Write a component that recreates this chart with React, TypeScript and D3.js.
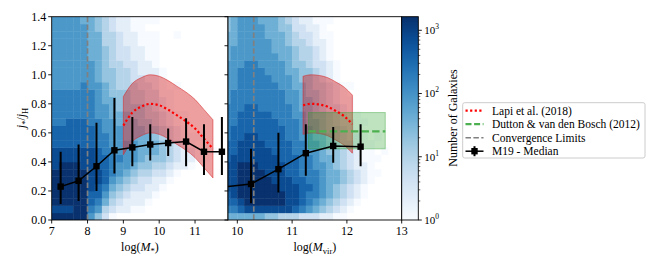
import React from 'react';
import * as d3 from 'd3';

// ---- data ----
const yTicks = [0, 0.2, 0.4, 0.6, 0.8, 1.0, 1.2, 1.4];
const leftXTicks = [7, 8, 9, 10, 11];
const rightXTicks = [10, 11, 12, 13];
const cbMajor = [1, 10, 100, 1000];

// M19 median, stellar mass panel
const leftMedX = [7.25, 7.75, 8.25, 8.75, 9.25, 9.75, 10.25, 10.75, 11.25, 11.75];
const leftMedY = [0.23, 0.27, 0.37, 0.48, 0.5, 0.52, 0.53, 0.54, 0.47, 0.47];
const leftErrLo = [0.11, 0.13, 0.2, 0.32, 0.37, 0.41, 0.44, 0.37, 0.31, 0.31];
const leftErrHi = [0.47, 0.52, 0.67, 0.84, 0.71, 0.66, 0.63, 0.7, 0.66, 0.71];

// M19 median, virial mass panel
const rightMedX = [9.75, 10.25, 10.75, 11.25, 11.75, 12.25];
const rightMedY = [0.228, 0.248, 0.35, 0.46, 0.51, 0.505];
const rightErrLo = [0.1, 0.115, 0.19, 0.305, 0.395, 0.37];
const rightErrHi = [0.45, 0.49, 0.6, 0.66, 0.64, 0.66];

// Lapi et al. (2018)
const lapiLeftX = [9.0, 9.25, 9.5, 9.75, 10.0, 10.25, 10.5, 10.75, 11.0, 11.25, 11.5];
const lapiLeftY = [0.65, 0.74, 0.78, 0.8, 0.79, 0.76, 0.72, 0.68, 0.63, 0.56, 0.49];
const lapiRightX = [11.2, 11.35, 11.5, 11.65, 11.8, 11.95, 12.1];
const lapiRightY = [0.79, 0.8, 0.795, 0.78, 0.75, 0.715, 0.66];
const lapiScatter = 0.2;

// Dutton & van den Bosch (2012)
const duttonX = [11.3, 12.7];
const duttonMed = 0.61;
const duttonLo = 0.49;
const duttonHi = 0.74;

// convergence limits
const convLeft = 8.0;
const convRight = 10.3;

// 2D histogram: one string per x bin, bottom -> top, y bins of 0.05
// level char -> log10(count) = (level - 1) * 0.32, '0' = empty
const levelChars = '0123456789ab';
const levelStep = 0.32;
const binH = 0.05;
const leftBinX0 = 7.0;
const leftBinW = 0.2;
const leftHist = [
  'babbbbbaaa999888887777777777',
  'babbbbbbaa999888887777777777',
  'babbbbbbaa999988887777777777',
  'bbbbbbbbaa999988887777777777',
  'bbbbbbbaaa999988888777777776',
  '7899aaaaaa999888887777666666',
  '57899aa999888877777666666655',
  '3467899998887777666555554444',
  '1345678888777766655554444433',
  '0234567787777665554444333322',
  '0223456777766665554443332222',
  '0122345677766655444333222211',
  '0122334566666555443322221111',
  '0012234556665544333222111101',
  '0001223456655443332221111101',
  '0000123455544332211110000000',
  '0000012344433221110000000000',
  '0000001233322110001000000100',
  '0000000222211010000000000000',
  '0000000122110000000000000000',
  '0000000011010000000000000000',
  '0000000010100000000000000000',
  '0000000001000000000000000000',
];
const rightBinX0 = 9.75;
const rightBinW = 0.125;
const rightHist = [
  '6899aaaa99988888777777666655',
  '689aaaaaa9999888887777776666',
  '69abbbbbaaa99998888887777777',
  '6abbbbbbaaaa9999888888777777',
  '6abbbbbbaaaa9999888888777777',
  '6abbbbbaaaa99998888887777776',
  '5abbbbaaaa999998888877777666',
  '5abbbaaaa9999988888777766666',
  '4abbaaaa99999888887777666655',
  '4aaaaa9999988888777766665554',
  '49aaa99998888877776665554433',
  '3899998888877776666555444332',
  '3788988887777666655554443322',
  '3678888777766655554443332221',
  '2567777766665554444333222111',
  '2456666665554443333222111101',
  '1345566555444333222111000000',
  '1234455444333222111000000000',
  '0123344333322211101000000000',
  '0012233222221110000000000000',
  '0001122211110100000000000000',
  '0000011111100000000000000000',
  '0000001010010000000000000000',
  '0000000001000000000000000000',
];

// ---- layout ----
const W = 648;
const H = 270;
const plotTop = 16.7;
const plotBot = 220;
const leftPx = [51.7, 228];
const rightPx = [228, 401.7];
const cbPx = [401.7, 418.3];
const font = '"Liberation Serif", "DejaVu Serif", serif';

const y = d3.scaleLinear().domain([0, 1.4]).range([plotBot, plotTop]);
const xLeft = d3.scaleLinear().domain([7, 11.92]).range(leftPx);
const xRight = d3.scaleLinear().domain([9.83, 13]).range(rightPx);
const cbScale = d3.scaleLog().domain([1, 1640]).range([plotBot, plotTop]);
const color = d3.scaleSequentialLog(d3.interpolateBlues).domain([1, 1640]);

const toCells = (cols: string[], x0: number, bw: number) => {
  const out: { x: number; y: number; c: number }[] = [];
  cols.forEach((col, i) => {
    for (let r = 0; r < col.length; r++) {
      const v = levelChars.indexOf(col[r]);
      if (v <= 0) continue;
      out.push({ x: x0 + i * bw, y: r * binH, c: Math.pow(10, (v - 1) * levelStep) });
    }
  });
  return out;
};

const zip = (xs: number[], ys: number[]) => xs.map((x, i) => [x, ys[i]] as [number, number]);

const RED = 'rgb(214,39,40)';
const GREEN = 'rgb(44,160,44)';

function Panel({ id, x, hist, bx0, bw, medX, medY, lo, hi, lapiX, lapiY, conv, dutton, ticks }: any) {
  const cells = toCells(hist, bx0, bw);
  const [x0, x1] = x.range();
  const line = d3.line<[number, number]>().x(d => x(d[0])).y(d => y(d[1])).curve(d3.curveMonotoneX);
  const area = d3.area<[number, number]>()
    .x(d => x(d[0]))
    .y0(d => y(d[1] - lapiScatter))
    .y1(d => y(d[1] + lapiScatter))
    .curve(d3.curveMonotoneX);
  const lapi = zip(lapiX, lapiY);
  const med = zip(medX, medY);
  return (
    <g>
      <defs>
        <clipPath id={id}>
          <rect x={x0} y={plotTop} width={x1 - x0} height={plotBot - plotTop} />
        </clipPath>
      </defs>
      <g clipPath={`url(#${id})`}>
        {cells.map((d, i) => (
          <rect key={i} x={x(d.x)} y={y(d.y + binH)} width={x(d.x + bw) - x(d.x) + 0.4}
            height={y(d.y) - y(d.y + binH) + 0.4} fill={color(d.c)} />
        ))}
        <path d={area(lapi) || ''} fill={RED} fillOpacity={0.45} stroke={RED} strokeOpacity={0.55} strokeWidth={1} />
        {dutton && (
          <rect x={x(duttonX[0])} y={y(duttonHi)} width={x(duttonX[1]) - x(duttonX[0])}
            height={y(duttonLo) - y(duttonHi)} fill={GREEN} fillOpacity={0.3}
            stroke={GREEN} strokeOpacity={0.4} strokeWidth={1} />
        )}
        <path d={line(lapi) || ''} fill="none" stroke="red" strokeWidth={2.2} strokeDasharray="2.2 2.4" />
        {dutton && (
          <line x1={x(duttonX[0])} x2={x(duttonX[1])} y1={y(duttonMed)} y2={y(duttonMed)}
            stroke="#4caf50" strokeWidth={2.2} strokeDasharray="7.4 3.2" />
        )}
        <line x1={x(conv)} x2={x(conv)} y1={plotTop} y2={plotBot} stroke="gray" strokeWidth={1.7} strokeDasharray="5.5 2.4" />
        <path d={d3.line()(med.map(d => [x(d[0]), y(d[1])])) || ''} fill="none" stroke="black" strokeWidth={1.5} />
        {medX.map((mx: number, i: number) => (
          <g key={i}>
            <line x1={x(mx)} x2={x(mx)} y1={y(lo[i])} y2={y(hi[i])} stroke="black" strokeWidth={2} />
            <rect x={x(mx) - 3.2} y={y(medY[i]) - 3.2} width={6.4} height={6.4} fill="black" />
          </g>
        ))}
      </g>
      <rect x={x0} y={plotTop} width={x1 - x0} height={plotBot - plotTop} fill="none" stroke="black" strokeWidth={0.9} />
      {ticks.map((t: number) => (
        <g key={t}>
          <line x1={x(t)} x2={x(t)} y1={plotBot} y2={plotBot + 3.5} stroke="black" strokeWidth={0.9} />
          <text x={x(t)} y={plotBot + 15} textAnchor="middle" fontSize={12} fontFamily={font}>{t}</text>
        </g>
      ))}
      {yTicks.map(t => (
        <line key={t} x1={x0 - 3.5} x2={x0} y1={y(t)} y2={y(t)} stroke="black" strokeWidth={0.9} />
      ))}
    </g>
  );
}

export default function App() {
  const gradStops = d3.range(0, 1.0001, 0.05);
  const minor: number[] = [];
  [1, 10, 100, 1000].forEach(dec => {
    for (let k = 2; k <= 9; k++) if (dec * k <= 1640) minor.push(dec * k);
  });
  const legendItems = [
    { label: 'Lapi et al. (2018)', kind: 'lapi' },
    { label: 'Dutton & van den Bosch (2012)', kind: 'dutton' },
    { label: 'Convergence Limits', kind: 'conv' },
    { label: 'M19 - Median', kind: 'med' },
  ];
  const legX = 462.7;
  const legY = 102.7;
  return (
    <svg width={W} height={H} style={{ position: 'absolute', left: 0, top: 0, background: 'white' }}
      fontFamily={font}>
      <defs>
        <linearGradient id="cbgrad" x1="0" y1="1" x2="0" y2="0">
          {gradStops.map(s => (
            <stop key={s} offset={s} stopColor={d3.interpolateBlues(s)} />
          ))}
        </linearGradient>
      </defs>
      <Panel id="clipL" x={xLeft} hist={leftHist} bx0={leftBinX0} bw={leftBinW}
        medX={leftMedX} medY={leftMedY} lo={leftErrLo} hi={leftErrHi}
        lapiX={lapiLeftX} lapiY={lapiLeftY} conv={convLeft} dutton={false} ticks={leftXTicks} />
      <Panel id="clipR" x={xRight} hist={rightHist} bx0={rightBinX0} bw={rightBinW}
        medX={rightMedX} medY={rightMedY} lo={rightErrLo} hi={rightErrHi}
        lapiX={lapiRightX} lapiY={lapiRightY} conv={convRight} dutton={true} ticks={rightXTicks} />
      {yTicks.map(t => (
        <text key={t} x={leftPx[0] - 5.5} y={y(t)} dy="0.35em" textAnchor="end" fontSize={12}>
          {t.toFixed(1)}
        </text>
      ))}
      {/* axis labels */}
      <text transform={`translate(25,118) rotate(-90)`} textAnchor="middle" fontSize={12}>
        <tspan fontStyle="italic">j</tspan>
        <tspan fontSize={8.5} dy={3}>*</tspan>
        <tspan dy={-3}>/</tspan>
        <tspan fontStyle="italic">j</tspan>
        <tspan fontSize={8.5} dy={3}>H</tspan>
      </text>
      <text x={(leftPx[0] + leftPx[1]) / 2} y={251} textAnchor="middle" fontSize={12}>
        log(<tspan fontStyle="italic">M</tspan>
        <tspan fontSize={8.5} dy={3}>*</tspan>
        <tspan dy={-3}>)</tspan>
      </text>
      <text x={(rightPx[0] + rightPx[1]) / 2} y={251} textAnchor="middle" fontSize={12}>
        log(<tspan fontStyle="italic">M</tspan>
        <tspan fontSize={8.5} dy={3}>vir</tspan>
        <tspan dy={-3}>)</tspan>
      </text>
      {/* colorbar */}
      <rect x={cbPx[0]} y={plotTop} width={cbPx[1] - cbPx[0]} height={plotBot - plotTop} fill="url(#cbgrad)"
        stroke="black" strokeWidth={0.9} />
      {cbMajor.map(t => (
        <g key={t}>
          <line x1={cbPx[1]} x2={cbPx[1] + 3.5} y1={cbScale(t)} y2={cbScale(t)} stroke="black" strokeWidth={0.9} />
          <text x={cbPx[1] + 6} y={cbScale(t)} dy="0.35em" fontSize={11}>
            10<tspan fontSize={7.5} dy={-5}>{Math.round(Math.log10(t))}</tspan>
          </text>
        </g>
      ))}
      {minor.map(t => (
        <line key={t} x1={cbPx[1]} x2={cbPx[1] + 2} y1={cbScale(t)} y2={cbScale(t)} stroke="black" strokeWidth={0.6} />
      ))}
      <text transform={`translate(457,118) rotate(-90)`} textAnchor="middle" fontSize={12}>Number of Galaxies</text>
      {/* legend */}
      <rect x={legX} y={legY} width={182.3} height={55.3} rx={2} fill="white" fillOpacity={0.8}
        stroke="#cccccc" strokeWidth={1} />
      {legendItems.map((it, i) => {
        const cy = 110.7 + i * 13.5;
        const hx0 = 465.5;
        const hx1 = 483.5;
        return (
          <g key={it.kind}>
            {it.kind === 'lapi' && (
              <line x1={hx0} x2={hx1} y1={cy} y2={cy} stroke="red" strokeWidth={2.2} strokeDasharray="2.2 2.4" />
            )}
            {it.kind === 'dutton' && (
              <line x1={hx0} x2={hx1} y1={cy} y2={cy} stroke="#4caf50" strokeWidth={2.2} strokeDasharray="6 2.6" />
            )}
            {it.kind === 'conv' && (
              <line x1={hx0} x2={hx1} y1={cy} y2={cy} stroke="gray" strokeWidth={1.5} strokeDasharray="5.5 2.4" />
            )}
            {it.kind === 'med' && (
              <g>
                <line x1={hx0} x2={hx1} y1={cy} y2={cy} stroke="black" strokeWidth={1.5} />
                <line x1={(hx0 + hx1) / 2} x2={(hx0 + hx1) / 2} y1={cy - 5} y2={cy + 5} stroke="black" strokeWidth={2} />
                <rect x={(hx0 + hx1) / 2 - 3.2} y={cy - 3.2} width={6.4} height={6.4} fill="black" />
              </g>
            )}
            <text x={492} y={cy} dy="0.35em" fontSize={11.5}>{it.label}</text>
          </g>
        );
      })}
    </svg>
  );
}
